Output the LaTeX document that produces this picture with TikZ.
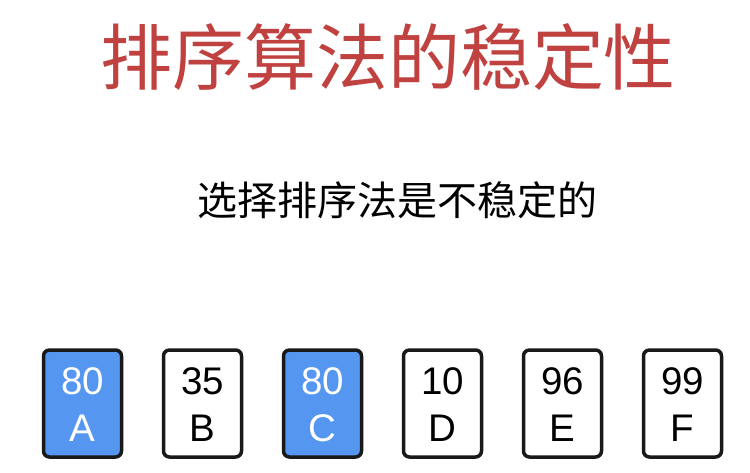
\documentclass[tikz,border=0pt]{standalone}
\usepackage{fontspec}
\setmainfont{Liberation Sans}
\newfontfamily\cjk{Noto Sans CJK SC}
\definecolor{titlered}{RGB}{192,66,64}
\definecolor{cardblue}{RGB}{85,150,240}
\definecolor{cardline}{RGB}{25,25,25}
\begin{document}
\begin{tikzpicture}[x=1pt,y=-1pt,
  card/.style={draw=cardline, line width=3.5pt, rounded corners=6pt, minimum width=78pt, minimum height=107pt, inner sep=0pt},
  hot/.style={card, fill=cardblue},
  cold/.style={card, fill=white},
  numtxt/.style={font=\fontsize{38.5}{38.5}\selectfont, inner sep=0pt},
  lettxt/.style={font=\fontsize{38.5}{38.5}\selectfont, inner sep=0pt}]
\useasboundingbox (0,0) rectangle (750,472);
\node[text=titlered, font=\cjk\fontsize{72}{72}\selectfont, inner sep=0pt] (title) at (388,57) {排序算法的稳定性};
\node[font=\cjk\fontsize{40}{40}\selectfont, inner sep=0pt] (sub) at (397,200) {选择排序法是不稳定的};
\foreach \i/\x/\n/\l/\s/\c in {a/82.5/80/A/hot/white, b/202.5/35/B/cold/black, c/322.5/80/C/hot/white, d/442.5/10/D/cold/black, e/562.5/96/E/cold/black, f/682.5/99/F/cold/black}{
  \node[\s] (card\i) at (\x,403.5) {};
  \node[numtxt, text=\c] (num\i) at (\x,381) {\n};
  \node[lettxt, text=\c] (let\i) at (\x,428.5) {\l};
}
\end{tikzpicture}
\end{document}
